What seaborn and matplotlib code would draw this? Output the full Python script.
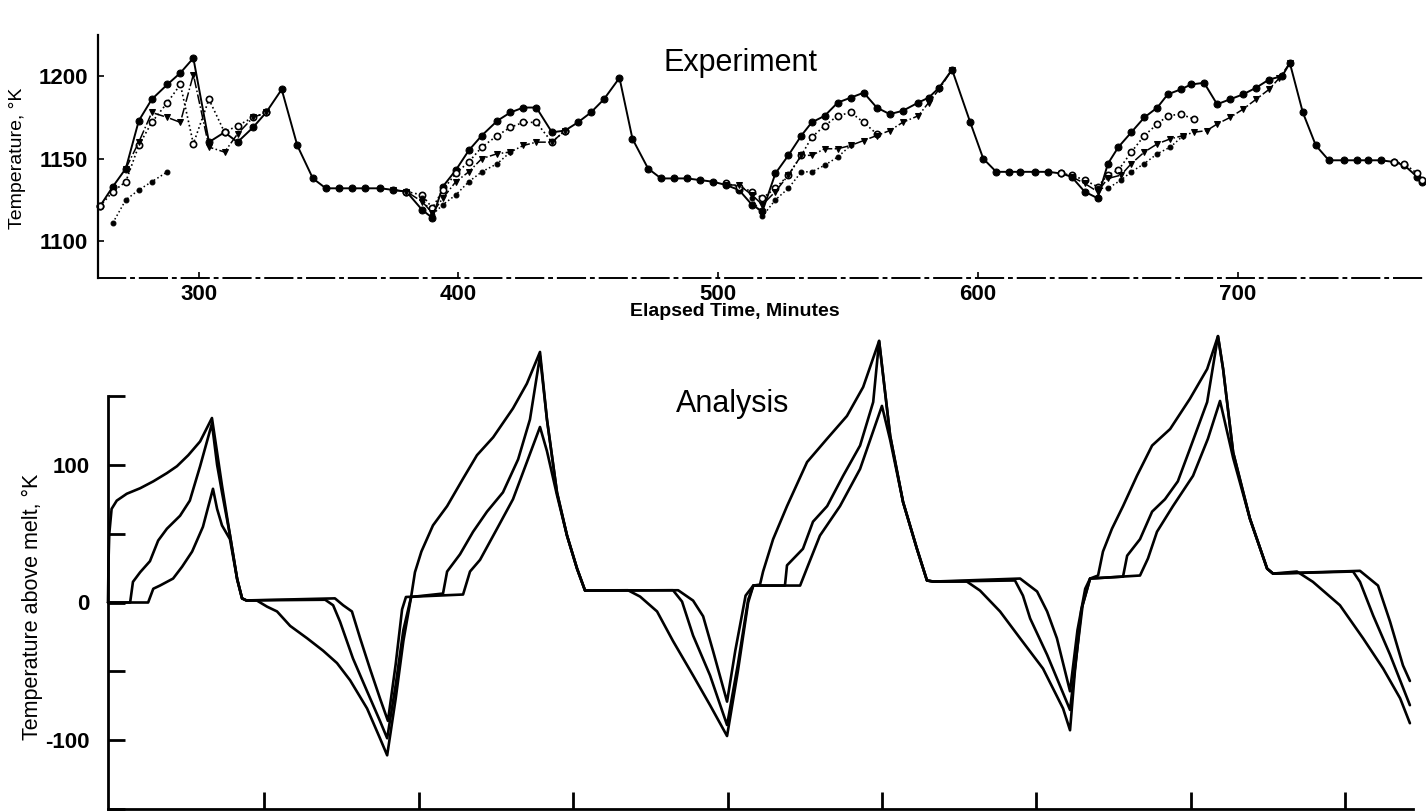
import matplotlib
matplotlib.use("Agg")
import matplotlib.pyplot as plt
import seaborn as sns
import pandas as pd

# ==========================================
# Plain black-and-white report style
# ==========================================
sns.set_theme(style="white")
plt.rcParams["font.family"] = ["Liberation Sans", "DejaVu Sans"]
plt.rcParams.update({
    "axes.unicode_minus": False,
    "text.color": "black",
    "axes.labelcolor": "black",
    "xtick.color": "black",
    "ytick.color": "black",
})

# ---------------- Experiment (elapsed time, min ; temperature, K) ----------------
# solid line, filled circles
exp_a = [(262, 1121), (267, 1133), (272, 1144), (277, 1173), (282, 1186), (288, 1195),
         (293, 1202), (298, 1211), (304, 1160), (310, 1166), (315, 1160), (321, 1169),
         (326, 1178), (332, 1192), (338, 1158), (344, 1138), (349, 1132), (354, 1132),
         (359, 1132), (364, 1132), (370, 1132), (375, 1131), (380, 1130), (386, 1119),
         (390, 1114), (394, 1133), (399, 1143), (404, 1155), (409, 1164), (415, 1173),
         (420, 1178), (425, 1181), (430, 1181), (436, 1166), (441, 1167), (446, 1172),
         (451, 1178), (456, 1186), (462, 1199), (467, 1162), (473, 1144), (478, 1138),
         (483, 1138), (488, 1138), (493, 1137), (498, 1136), (503, 1134), (508, 1131),
         (513, 1122), (517, 1118), (522, 1141), (527, 1152), (532, 1164), (536, 1172),
         (541, 1176), (546, 1184), (551, 1187), (556, 1190), (561, 1181), (566, 1177),
         (571, 1179), (577, 1184), (581, 1187), (585, 1193), (590, 1204), (597, 1172),
         (602, 1150), (607, 1142), (612, 1142), (616, 1142), (622, 1142), (627, 1142),
         (632, 1141), (636, 1139), (641, 1130), (646, 1126), (650, 1147), (654, 1157),
         (659, 1166), (664, 1175), (669, 1181), (673, 1189), (678, 1192), (682, 1195),
         (687, 1196), (692, 1183), (697, 1186), (702, 1189), (707, 1193), (712, 1198),
         (717, 1200), (720, 1208), (725, 1178), (730, 1158), (735, 1149), (741, 1149),
         (746, 1149), (750, 1149), (755, 1149), (760, 1148), (764, 1146), (769, 1139),
         (771, 1136)]

# dotted line, open circles (only where it leaves the solid curve)
exp_b = [
    [(262, 1121), (267, 1130), (272, 1136), (277, 1158), (282, 1172), (288, 1184), (293, 1195),
     (298, 1159), (304, 1186), (310, 1166), (315, 1170), (321, 1175), (326, 1178)],
    [(380, 1130), (386, 1128), (390, 1120), (394, 1131), (399, 1141), (404, 1148), (409, 1157),
     (415, 1164), (420, 1169), (425, 1172), (430, 1172), (436, 1160), (441, 1167)],
    [(503, 1135), (508, 1133), (513, 1130), (517, 1126), (522, 1132), (527, 1140), (532, 1152),
     (536, 1163), (541, 1170), (546, 1176), (551, 1178), (556, 1172), (561, 1165)],
    [(632, 1141), (636, 1140), (641, 1137), (646, 1133), (650, 1140), (654, 1143), (659, 1154),
     (664, 1164), (669, 1171), (673, 1176), (678, 1177), (683, 1174)],
    [(760, 1148), (764, 1147), (769, 1141), (771, 1137)],
]

# dash-dot line, small triangles
exp_c = [
    [(272, 1144), (277, 1160), (282, 1178), (288, 1175), (293, 1172), (298, 1201), (304, 1157),
     (310, 1154), (315, 1165), (321, 1175), (326, 1178)],
    [(375, 1131), (380, 1130), (386, 1124), (390, 1117), (394, 1126), (399, 1136), (404, 1142),
     (409, 1150), (415, 1153), (420, 1154), (425, 1158), (430, 1160), (436, 1160), (441, 1167)],
    [(503, 1134), (508, 1134), (513, 1128), (517, 1122), (522, 1130), (527, 1140), (532, 1152),
     (536, 1152), (541, 1156), (546, 1156), (551, 1158), (556, 1161), (561, 1164), (566, 1167),
     (571, 1172), (577, 1176), (581, 1184), (585, 1192), (590, 1204)],
    [(636, 1139), (641, 1135), (646, 1130), (650, 1138), (655, 1140), (659, 1147), (664, 1154),
     (669, 1159), (674, 1162), (679, 1164), (683, 1166), (688, 1167), (692, 1171), (697, 1175),
     (702, 1180), (707, 1186), (712, 1192), (716, 1199), (720, 1208)],
]

# dotted line, small filled dots (lowest reading)
exp_d = [
    [(267, 1111), (272, 1125), (277, 1131), (282, 1136), (288, 1142)],
    [(386, 1126), (390, 1116), (394, 1122), (399, 1128), (404, 1136), (409, 1142), (415, 1147),
     (420, 1154)],
    [(513, 1126), (517, 1115), (522, 1125), (527, 1132), (532, 1142), (536, 1142), (541, 1146),
     (546, 1151), (551, 1158)],
    [(646, 1132), (650, 1132), (655, 1137), (659, 1142), (664, 1147), (669, 1153), (674, 1157),
     (679, 1164)],
]

exp_xticks = [300, 400, 500, 600, 700]
exp_yticks = [1100, 1150, 1200]

# ---------------- Analysis (time from start, min ; K above melt) ----------------
ana_1 = [(-0.8, 0), (-0.6, 30), (-0.3, 50), (0.6, 68), (2.6, 74), (6.5, 79), (11.7, 83),
         (16.8, 88), (22.1, 94), (26.0, 99), (30.4, 107), (35.0, 117), (39.6, 134),
         (41.6, 109), (43.5, 85), (46.6, 49), (49.4, 17), (51.3, 3), (53.0, 1.5), (57.0, 1.5),
         (61.0, -3), (64.9, -6.5), (70.0, -17), (76.6, -26), (82.8, -35), (88.2, -44),
         (93.3, -56.5), (99.9, -77), (104.9, -98.6), (107.7, -111),
         (111.0, -70), (114.0, -28), (117.0, 4), (118.5, 22), (121.0, 37), (125.5, 56),
         (131.0, 70), (137.2, 90), (142.6, 107), (148.9, 120), (156.6, 141), (162.0, 159),
         (167.1, 182), (169.8, 133), (173.7, 80), (177.6, 48.6), (181.5, 24.6), (184.6, 8.7),
         (201.3, 8.9), (206.0, 4.3), (212.6, -6.5), (218.8, -28), (226.6, -53), (233.2, -74.6),
         (239.8, -97), (244.0, -50), (248.0, 0), (250.0, 12.3), (252.6, 13), (253.8, 22.5),
         (257.7, 46), (263.1, 70), (270.9, 102), (278.7, 119), (286.4, 135.5), (292.7, 156.5),
         (298.9, 190), (303.2, 121), (308.2, 73), (313.6, 39), (317.5, 16), (320.0, 15.2),
         (333.0, 15.2), (338.1, 8.7), (345.9, -6.5), (353.7, -26), (362.6, -48), (370.4, -77),
         (373.1, -92.8), (375.0, -50), (377.5, -5), (380.9, 17.4), (384.0, 19.6), (385.9, 37),
         (389.4, 53.6), (393.7, 70), (399.1, 92), (405.0, 114), (412.0, 126), (419.7, 148),
         (426.4, 169.6), (430.6, 193.5), (432.6, 169.6), (436.5, 109), (443.0, 61),
         (449.7, 24.6), (452.0, 21), (461.3, 22.5), (467.5, 15), (478.0, -2), (487.0, -26),
         (494.8, -48), (501.4, -69.6), (505.2, -87.7)]

ana_2 = [(-0.8, 0), (7.8, 0), (8.9, 15), (11.7, 22), (15.5, 30), (18.7, 45), (22.1, 53.6),
         (27.2, 63), (31.0, 74), (35.0, 99), (39.6, 130), (41.6, 100), (43.5, 80), (46.6, 49),
         (49.4, 17), (51.3, 3), (53.0, 1.5), (83.6, 2), (86.7, -2), (89.4, -14), (94.4, -40.6),
         (99.9, -64.5), (104.9, -86), (107.7, -98.6), (111.0, -60), (114.0, -20), (117.0, 4),
         (129.4, 6.5), (131.0, 22.5), (136.0, 35), (141.1, 51.4), (146.5, 66), (152.7, 80),
         (158.6, 104), (163.2, 133), (167.1, 179), (169.8, 133), (173.7, 80), (177.6, 48.6),
         (181.5, 24.6), (184.6, 8.7), (218.8, 8.9), (222.3, 0.7), (226.6, -24), (233.2, -53),
         (239.8, -89), (244.0, -45), (248.0, 2), (250.0, 12.3), (262.3, 12.3), (263.1, 27),
         (269.3, 39), (273.2, 58.7), (278.7, 70), (284.9, 92), (291.5, 114), (296.6, 145.6),
         (298.9, 190), (303.2, 121), (308.2, 73), (313.6, 39), (317.5, 16), (320.0, 15.2),
         (351.7, 16), (354.8, 5), (357.6, -11.6), (364.2, -38), (373.1, -78), (375.5, -40),
         (378.0, -2), (380.9, 17.4), (393.7, 18.8), (395.3, 34), (400.3, 46), (405.0, 66),
         (410.0, 75), (415.0, 88), (419.7, 111.6), (426.4, 145.6), (430.6, 193.5),
         (432.6, 169.6), (436.5, 109), (443.0, 61), (449.7, 24.6), (452.0, 21), (483.1, 22.5),
         (485.8, 15), (490.9, -9.4), (497.5, -38), (505.2, -74.6)]

ana_3 = [(-0.8, 0), (14.8, 0), (16.8, 10), (19.4, 12.3), (24.5, 17.4), (28.0, 26), (31.9, 37),
         (36.1, 55), (40.0, 82.6), (41.6, 68), (43.5, 56), (46.6, 46), (49.4, 17), (51.3, 3),
         (53.0, 1.5), (87.4, 3), (90.6, -2), (94.0, -6.5), (97.2, -26), (101.0, -48),
         (104.9, -69.6), (108.0, -86), (111.0, -45), (113.5, -5), (115.0, 4), (137.2, 5.8),
         (139.9, 22.5), (143.8, 31), (150.4, 53.6), (156.6, 75), (162.0, 102), (167.1, 127.5),
         (169.8, 110), (173.7, 78), (177.6, 48.6), (181.5, 24.6), (184.6, 8.7), (220.8, 8.9),
         (226.6, 1.4), (230.5, -10), (234.4, -35.5), (239.8, -72), (243.0, -35), (247.0, 5),
         (250.0, 12.3), (268.2, 12.3), (271.3, 27), (275.9, 48.6), (283.7, 70), (291.5, 97),
         (300.0, 142.8), (303.2, 118), (308.2, 73), (313.6, 39), (317.5, 16), (320.0, 15.2),
         (353.7, 17.4), (360.3, 8), (364.2, -6.5), (368.0, -26), (373.1, -64.5), (376.0, -20),
         (379.0, 10), (380.9, 17.4), (400.3, 19.6), (403.4, 32), (406.9, 51.4), (413.1, 70),
         (420.9, 92), (426.7, 119), (431.4, 146.4), (436.5, 105), (443.0, 61), (449.7, 24.6),
         (452.0, 21), (485.8, 23), (492.8, 12.3), (497.5, -14), (502.5, -45.7), (505.2, -57)]

ana_xticks = [60, 120, 180, 240, 300, 360, 420, 480]
ana_yticks = [-150, -100, -50, 0, 50, 100, 150]
ana_ylabels = ["", "-100", "", "0", "", "100", ""]


def seg_frame(segments):
    rows = [(k, t, v) for k, seg in enumerate(segments) for t, v in seg]
    return pd.DataFrame(rows, columns=["seg", "t", "T"])


W, H = 1426, 811
fig = plt.figure(figsize=(W / 100, H / 100), dpi=100)
ax1 = fig.add_axes([98 / W, (H - 278) / H, 1328 / W, 243 / H])
ax2 = fig.add_axes([108 / W, (H - 809) / H, 1305 / W, 413 / H])

# ---------------- top panel ----------------
df_a = pd.DataFrame(exp_a, columns=["t", "T"])
sns.lineplot(data=df_a, x="t", y="T", estimator=None, color="black", lw=1.4,
             marker="o", markersize=5, markeredgecolor="black", clip_on=False, ax=ax1)
sns.lineplot(data=seg_frame(exp_b), x="t", y="T", units="seg", estimator=None, color="black",
             lw=1.2, linestyle=":", marker="o", markersize=4.5, markerfacecolor="white",
             markeredgecolor="black", markeredgewidth=1.2, clip_on=False, ax=ax1)
sns.lineplot(data=seg_frame(exp_c), x="t", y="T", units="seg", estimator=None, color="black",
             lw=1.1, linestyle="-.", marker="v", markersize=4.5, markeredgecolor="black",
             clip_on=False, ax=ax1)
sns.lineplot(data=seg_frame(exp_d), x="t", y="T", units="seg", estimator=None, color="black",
             lw=1.1, linestyle=":", marker="o", markersize=3.5, markeredgecolor="black",
             clip_on=False, ax=ax1)

ax1.set_xlim(261.3, 772.4)
ax1.set_ylim(1077.6, 1225)
ax1.set_xticks(exp_xticks)
ax1.set_xticklabels([str(v) for v in exp_xticks], fontsize=16, fontweight="bold")
ax1.set_yticks(exp_yticks)
ax1.set_yticklabels([str(v) for v in exp_yticks], fontsize=16, fontweight="bold")
ax1.tick_params(axis="both", bottom=True, left=True, direction="in", length=4, width=1.2,
                colors="black")
ax1.tick_params(axis="x", pad=4)
ax1.tick_params(axis="y", pad=7)
for side in ["top", "right"]:
    ax1.spines[side].set_visible(False)
ax1.spines["left"].set_linewidth(1.6)
ax1.spines["left"].set_color("black")
ax1.spines["bottom"].set_linewidth(1.4)
ax1.spines["bottom"].set_color("black")
ax1.spines["bottom"].set_linestyle((0, (14, 3, 1.5, 3)))
ax1.set_xlabel("Elapsed Time, Minutes", fontsize=14, fontweight="bold", va="center")
ax1.xaxis.set_label_coords((735 - 98) / 1328, (278 - 312) / 243)
ax1.set_ylabel("Temperature, \u00b0K", fontsize=14, va="center")
ax1.yaxis.set_label_coords((18 - 98) / 1328, (278 - 158) / 243)
ax1.patch.set_alpha(0)

# ---------------- bottom panel ----------------
df_ana = pd.concat([pd.DataFrame(c, columns=["t", "T"]).assign(curve=i)
                    for i, c in enumerate([ana_1, ana_2, ana_3])], ignore_index=True)
sns.lineplot(data=df_ana, x="t", y="T", units="curve", estimator=None, sort=False,
             color="black", lw=1.9, clip_on=False, ax=ax2)

ax2.set_xlim(-0.8, 506.4)
ax2.set_ylim(-150, 150)
ax2.set_xticks(ana_xticks)
ax2.set_xticklabels([])
ax2.set_yticks(ana_yticks)
ax2.set_yticklabels(ana_ylabels, fontsize=16, fontweight="bold")
ax2.tick_params(axis="both", bottom=True, left=True, direction="in", length=12, width=2,
                colors="black")
ax2.tick_params(axis="y", pad=13)
for side in ["top", "right"]:
    ax2.spines[side].set_visible(False)
for side in ["left", "bottom"]:
    ax2.spines[side].set_linewidth(2)
    ax2.spines[side].set_color("black")
ax2.set_xlabel("")
ax2.set_ylabel("Temperature above melt, \u00b0K", fontsize=15.5, va="center")
ax2.yaxis.set_label_coords((32 - 108) / 1305, (809 - 607) / 413)
ax2.patch.set_alpha(0)

fig.text(740 / W, 1 - 63 / H, "Experiment", ha="center", va="center", fontsize=22)
fig.text(733 / W, 1 - 404 / H, "Analysis", ha="center", va="center", fontsize=22)

fig.savefig("out.png", dpi=100, facecolor="white")
